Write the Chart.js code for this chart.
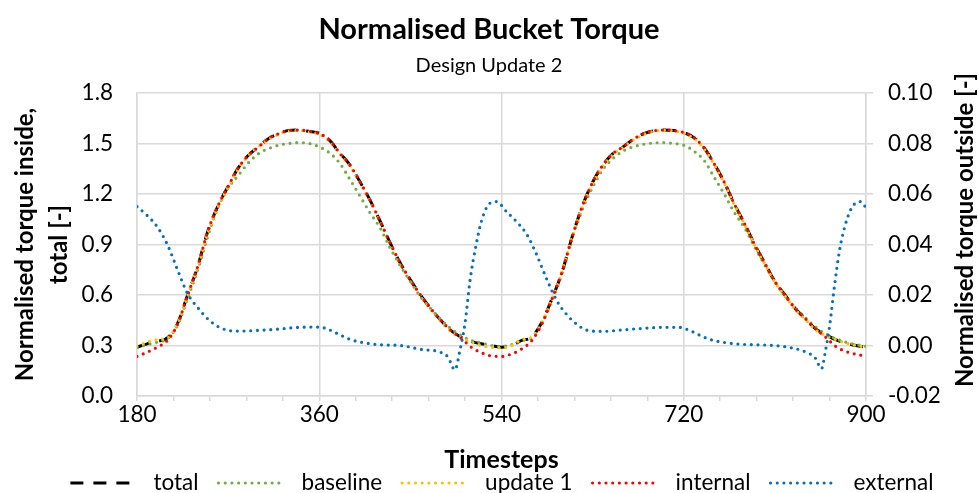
<!DOCTYPE html>
<html>
<head>
<meta charset="utf-8">
<script src="https://cdn.jsdelivr.net/npm/chart.js@4.4.1/dist/chart.umd.min.js"></script>
<style>
  html, body { margin: 0; padding: 0; background: #ffffff; overflow: hidden; }
  canvas { display: block; }
</style>
</head>
<body>
<canvas id="chart" width="978" height="493"></canvas>
<script>
// Timesteps shared by the inside-torque series
const timesteps = [180,190,200,210,220,230,240,250,260,270,280,290,300,310,320,330,340,350,360,370,380,390,400,410,420,430,440,450,460,470,480,490,500,510,520,530,540,
                   550,560,570,580,590,600,610,620,630,640,650,660,670,680,690,700,710,720,730,740,750,760,770,780,790,800,810,820,830,840,850,860,870,880,890,900];

// Normalised torque inside (left axis)
const total = [0.29,0.31,0.325,0.345,0.43,0.60,0.77,0.98,1.13,1.245,1.355,1.43,1.48,1.53,1.558,1.578,1.58,1.572,1.56,1.52,1.445,1.375,1.275,1.165,1.04,0.91,0.79,0.69,0.60,0.52,0.45,0.39,0.35,0.325,0.31,0.30,0.29,
               0.30,0.33,0.35,0.44,0.58,0.74,0.95,1.13,1.27,1.37,1.44,1.48,1.525,1.557,1.575,1.58,1.577,1.565,1.535,1.475,1.38,1.27,1.14,1.025,0.90,0.79,0.68,0.60,0.52,0.46,0.40,0.365,0.335,0.315,0.30,0.29];
const baseline = [0.29,0.305,0.32,0.34,0.42,0.58,0.75,0.95,1.12,1.235,1.31,1.385,1.44,1.47,1.49,1.50,1.505,1.50,1.48,1.445,1.385,1.29,1.19,1.09,1.0,0.88,0.775,0.68,0.59,0.52,0.455,0.40,0.36,0.33,0.315,0.30,0.295,
                  0.305,0.33,0.345,0.43,0.57,0.73,0.94,1.11,1.24,1.345,1.41,1.455,1.48,1.495,1.503,1.505,1.50,1.49,1.455,1.40,1.30,1.20,1.09,1.0,0.885,0.78,0.68,0.595,0.525,0.465,0.41,0.37,0.34,0.32,0.305,0.295];
const update1 = [0.295,0.32,0.335,0.345,0.43,0.60,0.77,0.975,1.125,1.24,1.35,1.43,1.48,1.525,1.555,1.575,1.578,1.57,1.555,1.515,1.44,1.37,1.27,1.16,1.035,0.905,0.785,0.685,0.595,0.515,0.445,0.385,0.345,0.32,0.30,0.29,0.285,
                 0.30,0.335,0.35,0.44,0.58,0.745,0.95,1.13,1.265,1.365,1.435,1.478,1.52,1.553,1.572,1.578,1.575,1.56,1.53,1.47,1.375,1.265,1.135,1.02,0.895,0.785,0.675,0.595,0.515,0.455,0.395,0.36,0.335,0.315,0.30,0.29];
const internal = [0.235,0.26,0.29,0.33,0.425,0.60,0.77,0.98,1.13,1.245,1.355,1.43,1.48,1.53,1.558,1.578,1.58,1.572,1.56,1.52,1.445,1.375,1.275,1.165,1.04,0.91,0.79,0.69,0.60,0.52,0.45,0.39,0.345,0.29,0.258,0.238,0.235,
                  0.25,0.28,0.33,0.43,0.58,0.74,0.95,1.13,1.27,1.37,1.44,1.48,1.525,1.557,1.575,1.58,1.577,1.565,1.535,1.475,1.38,1.27,1.14,1.025,0.90,0.79,0.68,0.60,0.52,0.46,0.40,0.35,0.295,0.265,0.248,0.237];

// Normalised torque outside (right axis), sampled more densely around the sharp dips
const extSteps = [180,190,200,210,220,230,240,250,260,270,280,300,320,340,360,370,380,390,400,420,440,460,480,487,494,499,504,509,515,520,527,535,545,555,565,575,585,595,605,615,
                  625,640,660,680,700,715,725,735,745,760,780,800,820,840,850,856,860,864,869,874,879,884,889,895,900];
const external = [0.055,0.0515,0.047,0.040,0.030,0.0205,0.015,0.0105,0.0075,0.006,0.0057,0.006,0.0065,0.0072,0.0073,0.0062,0.0043,0.0025,0.0014,0.0003,0.0,-0.0015,-0.0027,-0.0045,-0.0096,-0.0018,0.0089,0.026,0.040,0.049,0.0557,0.057,0.053,0.049,0.044,0.0357,0.026,0.0175,0.012,0.0082,
                  0.006,0.0056,0.0062,0.0068,0.0072,0.0072,0.0061,0.0042,0.0025,0.0012,0.0004,0.0002,-0.0005,-0.0025,-0.005,-0.0092,-0.002,0.0076,0.024,0.038,0.047,0.053,0.0562,0.057,0.0545];

// Labelled positions on the timestep axis
const xLabelSteps = [180, 360, 540, 720, 900];

const titleText = 'Normalised Bucket Torque';
const subtitleText = 'Design Update 2';
const leftTitle = ['Normalised torque inside,', 'total [-]'];
const rightTitle = 'Normalised torque outside [-]';
const xTitle = 'Timesteps';

const FONT = 'Lato';
const GRID = '#d9d9d9';

const toPoints = (xs, ys) => xs.map((x, i) => ({ x: x, y: ys[i] }));

function dottedSeries(label, xs, ys, color, axis, order) {
  return {
    label: label,
    data: toPoints(xs, ys),
    yAxisID: axis,
    borderColor: color,
    backgroundColor: color,
    borderWidth: 3.2,
    borderDash: [0, 6.7],
    borderCapStyle: 'round',
    pointRadius: 0,
    pointStyle: 'line',
    cubicInterpolationMode: 'monotone',
    fill: false,
    order: order
  };
}

const datasets = [
  {
    label: 'total',
    data: toPoints(timesteps, total),
    yAxisID: 'y',
    borderColor: '#000000',
    backgroundColor: '#000000',
    borderWidth: 3,
    borderDash: [13, 10],
    borderCapStyle: 'butt',
    pointRadius: 0,
    pointStyle: 'line',
    cubicInterpolationMode: 'monotone',
    fill: false,
    order: 5
  },
  dottedSeries('baseline', timesteps, baseline, '#70AD47', 'y', 4),
  dottedSeries('update 1', timesteps, update1, '#FFC000', 'y', 3),
  dottedSeries('internal', timesteps, internal, '#FF0000', 'y', 2),
  dottedSeries('external', extSteps, external, '#0070C0', 'y2', 1)
];

// Rotated title for the right-hand axis, reading bottom to top
const outsideTitle = {
  id: 'outsideTitle',
  afterDraw(chart) {
    const ctx = chart.ctx;
    ctx.save();
    ctx.translate(965, 230);
    ctx.rotate(-Math.PI / 2);
    ctx.font = 'bold 24px ' + FONT;
    ctx.fillStyle = '#000000';
    ctx.textAlign = 'center';
    ctx.textBaseline = 'middle';
    ctx.fillText(rightTitle, 0, 0);
    ctx.restore();
  }
};

// Nudge the legend so it is centred under the plot area
const legendShift = {
  id: 'legendShift',
  afterLayout(chart) {
    if (chart.legend) {
      chart.legend.left += 13;
      chart.legend.right += 13;
    }
  }
};

new Chart(document.getElementById('chart'), {
  type: 'line',
  data: { datasets: datasets },
  plugins: [outsideTitle, legendShift],
  options: {
    responsive: false,
    animation: false,
    devicePixelRatio: 1,
    layout: { padding: { top: 0, left: 0, right: 0, bottom: -11.25 } },
    plugins: {
      title: {
        display: true,
        text: titleText,
        color: '#000000',
        font: { family: FONT, size: 29, weight: 'bold' },
        padding: { top: 12.6, bottom: 0 }
      },
      subtitle: {
        display: true,
        text: subtitleText,
        color: '#000000',
        font: { family: FONT, size: 20 },
        padding: { top: 6.6, bottom: 15 }
      },
      legend: {
        display: true,
        position: 'bottom',
        labels: {
          usePointStyle: true,
          pointStyleWidth: 66,
          padding: 20,
          color: '#000000',
          font: { family: FONT, size: 22.5 },
          sort: (a, b) => a.datasetIndex - b.datasetIndex,
          generateLabels(chart) {
            const items = Chart.defaults.plugins.legend.labels.generateLabels(chart);
            items.forEach(it => {
              const ds = chart.data.datasets[it.datasetIndex];
              it.text = ' ' + it.text;
              it.lineDash = ds.borderDash;
              it.lineCap = ds.borderCapStyle;
              it.lineWidth = ds.borderWidth;
              it.strokeStyle = ds.borderColor;
            });
            return items;
          }
        }
      },
      tooltip: { enabled: false }
    },
    scales: {
      x: {
        type: 'linear',
        min: 180,
        max: 900,
        afterFit: (scale) => { scale.height = 55.75; },
        ticks: {
          stepSize: 36,
          autoSkip: false,
          maxRotation: 0,
          padding: 0,
          color: '#000000',
          font: { family: FONT, size: 22.5 },
          callback: (v) => (xLabelSteps.includes(v) ? String(v) : '')
        },
        grid: {
          color: (c) => (c.tick && xLabelSteps.includes(c.tick.value) ? GRID : 'rgba(0,0,0,0)'),
          tickColor: GRID,
          tickLength: 5,
          lineWidth: 1.5
        },
        border: { color: GRID, width: 1.5 },
        title: {
          display: true,
          text: xTitle,
          color: '#000000',
          font: { family: FONT, size: 25, weight: 'bold', lineHeight: 1 },
          padding: { top: 0, bottom: -20.75 }
        }
      },
      y: {
        position: 'left',
        min: 0,
        max: 1.8,
        afterFit: (scale) => { scale.width = 137; },
        ticks: {
          stepSize: 0.3,
          padding: 24,
          color: '#000000',
          font: { family: FONT, size: 22.5 },
          callback: (v) => Number(v).toFixed(1)
        },
        grid: { color: GRID, lineWidth: 1.5, drawTicks: false },
        border: { color: GRID, width: 1.5 },
        title: {
          display: true,
          text: leftTitle,
          color: '#000000',
          font: { family: FONT, size: 24, weight: 'bold', lineHeight: 1.42 },
          padding: { top: 8, bottom: 0 }
        }
      },
      y2: {
        position: 'right',
        min: -0.02,
        max: 0.10,
        afterFit: (scale) => { scale.width = 112; },
        ticks: {
          stepSize: 0.02,
          padding: 15,
          color: '#000000',
          font: { family: FONT, size: 22.5 },
          callback: (v) => Number(v).toFixed(2)
        },
        grid: { drawOnChartArea: false, tickColor: GRID, tickLength: 7, lineWidth: 1.5 },
        border: { color: GRID, width: 1.5 },
        title: { display: false }
      }
    }
  }
});
</script>
</body>
</html>
